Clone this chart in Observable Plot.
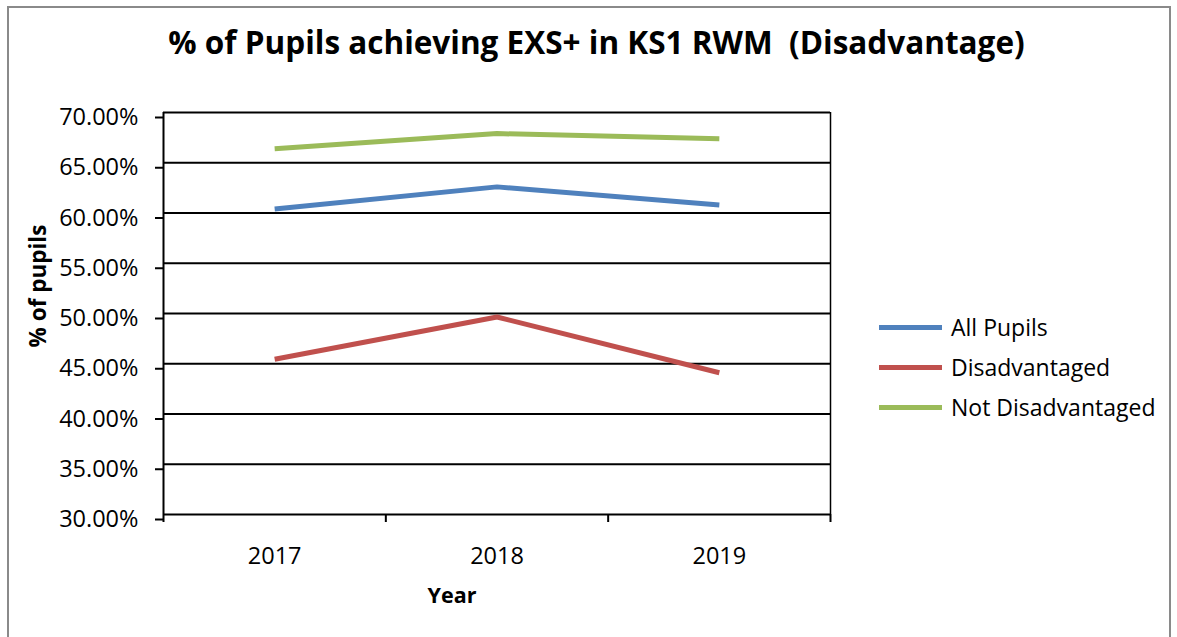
<!DOCTYPE html>
<html>
<head>
<meta charset="utf-8">
<script src="https://cdn.jsdelivr.net/npm/d3@7"></script>
<script src="https://cdn.jsdelivr.net/npm/@observablehq/plot@0.6"></script>
<style>
  html, body { margin: 0; padding: 0; background: #fff; }
  #wrap { position: relative; width: 1177px; height: 637px; overflow: hidden; background: #fff; font-family: "Open Sans", sans-serif; color: #000; }
  #frame { position: absolute; left: 7px; top: 6px; width: 1164px; height: 700px; border: 2px solid #8a8a8a; box-sizing: border-box; }
  #chart { position: absolute; left: 0; top: 0; }
  #title { position: absolute; left: 0; width: 1193px; top: 20px; text-align: center; font-weight: bold; font-size: 31.5px; line-height: 43px; white-space: pre; }
  #ylabel { position: absolute; left: 37px; top: 286px; transform: translate(-50%, -50%) rotate(-90deg); font-weight: bold; font-size: 22.5px; white-space: pre; }
  #xlabel { position: absolute; left: 452px; top: 580px; transform: translateX(-50%); font-weight: bold; font-size: 21.5px; }
  #legend { position: absolute; left: 879px; top: 307px; }
  .item { display: flex; align-items: center; height: 40px; font-size: 23px; white-space: pre; }
  .sw { width: 63px; height: 5px; margin-right: 9px; }
</style>
</head>
<body>
<div id="wrap">
  <div id="frame"></div>
  <div id="chart"></div>
  <div id="title"></div>
  <div id="ylabel"></div>
  <div id="xlabel"></div>
  <div id="legend"></div>
</div>
<script>
const titleText = "% of Pupils achieving EXS+ in KS1 RWM  (Disadvantage)";
const yLabel = "% of pupils";
const xLabel = "Year";
const years = [2017, 2018, 2019];
const seriesNames = ["All Pupils", "Disadvantaged", "Not Disadvantaged"];
const seriesColors = ["#4F81BD", "#C0504D", "#9BBB59"];
const allPupils = [60.4, 62.6, 60.8];
const disadvantaged = [45.45, 49.65, 44.1];
const notDisadvantaged = [66.4, 67.9, 67.4];
const yTicks = [30, 35, 40, 45, 50, 55, 60, 65, 70];

const seriesValues = [allPupils, disadvantaged, notDisadvantaged];
const data = [];
seriesNames.forEach((s, i) => years.forEach((yr, j) => data.push({series: s, year: yr, value: seriesValues[i][j]})));
const boundaries = [years[0] - 0.5, ...years.map(y => y + 0.5)];

const plot = Plot.plot({
  width: 1177,
  height: 637,
  marginLeft: 163,
  marginRight: 347,
  marginTop: 112,
  marginBottom: 123,
  style: {fontFamily: "'Open Sans', sans-serif", fontSize: "23.5px", color: "#000", background: "transparent"},
  x: {type: "linear", domain: [boundaries[0], boundaries[boundaries.length - 1]]},
  y: {domain: [yTicks[0], yTicks[yTicks.length - 1]]},
  color: {domain: seriesNames, range: seriesColors},
  marks: [
    Plot.ruleY(yTicks, {stroke: "#000", strokeWidth: 2}),
    Plot.ruleX([boundaries[0]], {stroke: "#000", strokeWidth: 2}),
    Plot.ruleX([boundaries[boundaries.length - 1]], {stroke: "#000", strokeWidth: 1.5}),
    Plot.axisY({ticks: yTicks, tickSize: 8, tickPadding: 17, tickFormat: d => d.toFixed(2) + "%", label: null, strokeWidth: 2, dy: 5}),
    Plot.axisX({ticks: boundaries, tickSize: 8, tickFormat: () => "", label: null, strokeWidth: 2}),
    Plot.axisX({ticks: years, tickSize: 0, tickPadding: 33, tickFormat: d => String(d), label: null}),
    Plot.line(data, {x: "year", y: "value", z: "series", stroke: "series", strokeWidth: 5, strokeLinejoin: "miter", strokeLinecap: "butt"})
  ]
});
document.getElementById("chart").appendChild(plot);
document.getElementById("title").textContent = titleText;
document.getElementById("ylabel").textContent = yLabel;
document.getElementById("xlabel").textContent = xLabel;
const legend = document.getElementById("legend");
seriesNames.forEach((s, i) => {
  const item = document.createElement("div");
  item.className = "item";
  const sw = document.createElement("div");
  sw.className = "sw";
  sw.style.background = seriesColors[i];
  const t = document.createElement("span");
  t.textContent = s;
  item.appendChild(sw);
  item.appendChild(t);
  legend.appendChild(item);
});
</script>
</body>
</html>
